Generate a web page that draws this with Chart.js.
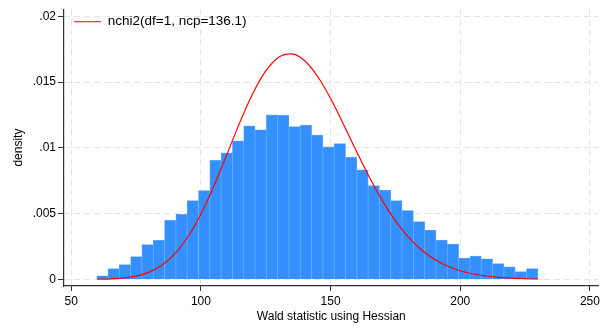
<!DOCTYPE html>
<html>
<head>
<meta charset="utf-8">
<title>Wald statistic histogram</title>
<script src="https://cdn.jsdelivr.net/npm/chart.js@4.4.1/dist/chart.umd.min.js"></script>
<style>
    html, body { margin: 0; padding: 0; background: #ffffff; }
    canvas { display: block; }
</style>
</head>
<body>
<canvas id="chartWald" width="603" height="329"></canvas>
<script>
// ========================================
// DATA
// ========================================

// histogram bins (centres) and their densities
const binCenters = [
    61.98, 66.34, 70.70, 75.07, 79.43, 83.79, 88.15, 92.51, 96.87, 101.24,
    105.60, 109.96, 114.32, 118.68, 123.04, 127.40, 131.76, 136.13, 140.49, 144.85,
    149.21, 153.57, 157.93, 162.29, 166.66, 171.02, 175.38, 179.74, 184.10, 188.46,
    192.83, 197.19, 201.55, 205.91, 210.27, 214.63, 218.99, 223.36, 227.72
];
const binDensity = [
    0.00028, 0.00082, 0.00112, 0.00174, 0.00264, 0.00297, 0.00449, 0.00494, 0.00599, 0.00676,
    0.00906, 0.00963, 0.01053, 0.01168, 0.01138, 0.01252, 0.01248, 0.01162, 0.01173, 0.01097,
    0.01008, 0.01033, 0.00928, 0.00833, 0.00713, 0.00679, 0.00599, 0.00524, 0.00439, 0.00374,
    0.00299, 0.00269, 0.00162, 0.00177, 0.00157, 0.00120, 0.00095, 0.00060, 0.00082
];

// red reference curve
const curveX = [
    60, 65, 70, 75, 80, 85, 90, 95, 100, 105, 110, 115, 120, 125, 130, 135, 140, 145,
    150, 155, 160, 165, 170, 175, 180, 185, 190, 195, 200, 205, 210, 215, 220, 225, 230
];
const curveY = [
    0.00001, 0.00004, 0.00010, 0.00025, 0.00055, 0.00109, 0.00196, 0.00324, 0.00498,
    0.00711, 0.00950, 0.01194, 0.01413, 0.01585, 0.01690, 0.01715, 0.01663, 0.01543,
    0.01376, 0.01178, 0.00973, 0.00775, 0.00597, 0.00445, 0.00322, 0.00226, 0.00154,
    0.00102, 0.00066, 0.00041, 0.00026, 0.00015, 0.00009, 0.00005, 0.00003
];

// axes
const xTicks = [50, 100, 150, 200, 250];
const yTicks = [0, 0.005, 0.01, 0.015, 0.02];
const yTickLabels = ['0', '.005', '.01', '.015', '.02'];
const curveLabel = 'nchi2(df=1, ncp=136.1)';
const xTitle = 'Wald statistic using Hessian';
const yTitle = 'density';

// ========================================
// STYLE
// ========================================
const FONT = "'Liberation Sans', Arial, Helvetica, sans-serif";
const GRID_COLOR = '#e4e4e4';
const AXIS_COLOR = '#333333';

// ========================================
// CHART
// ========================================
const ctx = document.getElementById('chartWald');

new Chart(ctx, {
    type: 'bar',
    data: {
        datasets: [
            {
                type: 'line',
                label: curveLabel,
                data: curveX.map((x, i) => ({ x: x, y: curveY[i] })),
                borderColor: '#ff0000',
                borderWidth: 1.2,
                pointRadius: 0,
                fill: false,
                cubicInterpolationMode: 'monotone',
                order: 0
            },
            {
                type: 'bar',
                label: yTitle,
                data: binCenters.map((x, i) => ({ x: x, y: binDensity[i] })),
                backgroundColor: '#3390fe',
                borderColor: '#6badfd',
                borderWidth: 0.7,
                borderSkipped: 'start',
                barPercentage: 1,
                categoryPercentage: 1,
                order: 1
            }
        ]
    },
    options: {
        responsive: false,
        animation: false,
        devicePixelRatio: 1,
        layout: {
            padding: { top: 5, right: 3, left: 0, bottom: 0 }
        },
        plugins: {
            legend: {
                position: 'chartArea',
                align: 'start',
                // empty title only pushes the single entry down a little
                title: {
                    display: true,
                    text: '',
                    padding: 0,
                    font: { family: FONT, size: 5, lineHeight: 1 }
                },
                labels: {
                    filter: item => item.text === curveLabel,
                    usePointStyle: true,
                    pointStyle: 'line',
                    pointStyleWidth: 27,
                    padding: 10,
                    color: '#000000',
                    font: { family: FONT, size: 13.5 }
                }
            },
            tooltip: { enabled: false }
        },
        scales: {
            x: {
                type: 'linear',
                min: 47.19,
                max: 253.35,
                offset: false,
                afterBuildTicks: scale => {
                    scale.ticks = xTicks.map(v => ({ value: v }));
                },
                afterFit: scale => {
                    scale.height = 43;
                },
                ticks: {
                    color: '#000000',
                    padding: 3,
                    maxRotation: 0,
                    font: { family: FONT, size: 12 }
                },
                grid: {
                    offset: false,
                    color: GRID_COLOR,
                    lineWidth: 1,
                    tickColor: AXIS_COLOR,
                    tickLength: 5,
                    tickBorderDash: []
                },
                border: {
                    display: true,
                    color: AXIS_COLOR,
                    width: 1.2,
                    dash: [6, 4]
                },
                title: {
                    display: true,
                    text: xTitle,
                    color: '#000000',
                    font: { family: FONT, size: 12 },
                    padding: { top: 0, bottom: 5 }
                }
            },
            y: {
                type: 'linear',
                min: -0.000502,
                max: 0.020547,
                afterBuildTicks: scale => {
                    scale.ticks = yTicks.map(v => ({ value: v }));
                },
                afterFit: scale => {
                    scale.width = 64;
                },
                ticks: {
                    color: '#000000',
                    padding: 2,
                    font: { family: FONT, size: 12 },
                    callback: (value, index) => yTickLabels[index]
                },
                grid: {
                    color: GRID_COLOR,
                    lineWidth: 1,
                    tickColor: AXIS_COLOR,
                    tickLength: 6,
                    tickBorderDash: []
                },
                border: {
                    display: true,
                    color: AXIS_COLOR,
                    width: 1.2,
                    dash: [6, 4]
                },
                title: {
                    display: true,
                    text: yTitle,
                    color: '#000000',
                    font: { family: FONT, size: 12 },
                    padding: { top: 11, bottom: 0 }
                }
            }
        }
    }
});
</script>
</body>
</html>
